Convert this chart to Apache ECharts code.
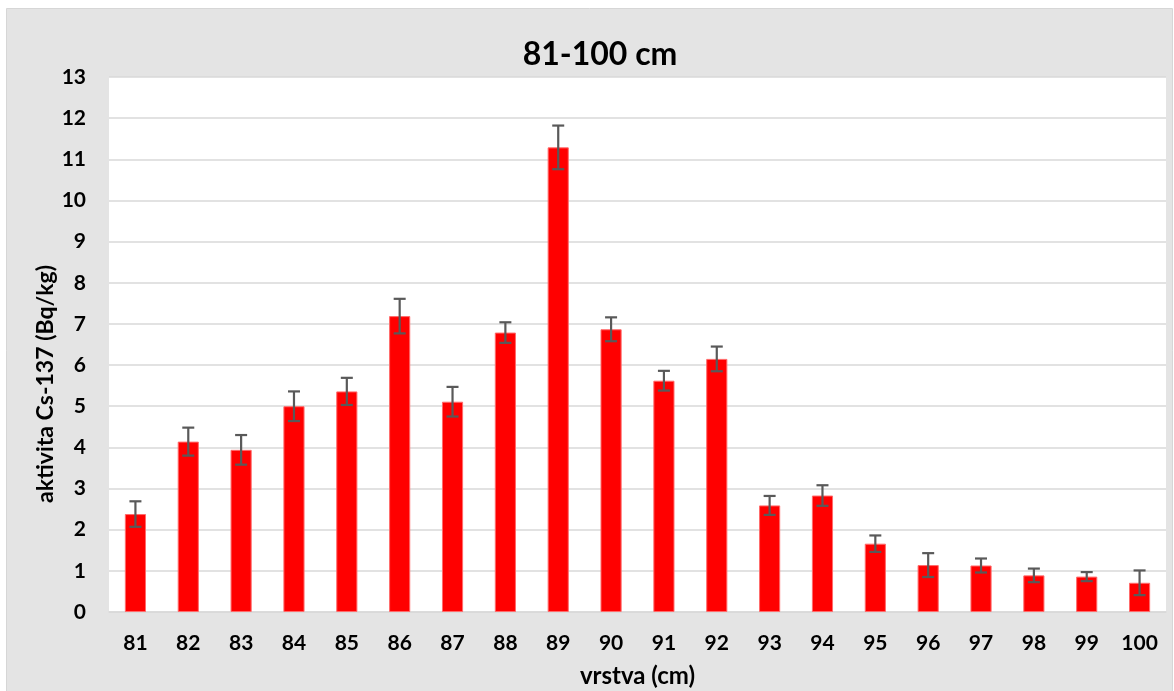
<!DOCTYPE html>
<html>
<head>
<meta charset="utf-8">
<script src="https://cdn.jsdelivr.net/npm/echarts@6/dist/echarts.min.js"></script>
<style>
  html, body { margin: 0; padding: 0; background: #fff; }
  #chart { width: 1174px; height: 691px; }
</style>
</head>
<body>
<div id="chart"></div>
<script>
// Layers (cm) and measured Cs-137 activity with its uncertainty
const layers = ['81', '82', '83', '84', '85', '86', '87', '88', '89', '90',
                '91', '92', '93', '94', '95', '96', '97', '98', '99', '100'];
const activity = [2.38, 4.14, 3.94, 5.00, 5.36, 7.19, 5.11, 6.79, 11.29, 6.87,
                  5.62, 6.15, 2.59, 2.83, 1.66, 1.14, 1.13, 0.89, 0.86, 0.71];
const uncertainty = [0.31, 0.34, 0.36, 0.36, 0.33, 0.42, 0.36, 0.25, 0.53, 0.29,
                     0.24, 0.30, 0.23, 0.25, 0.20, 0.29, 0.17, 0.165, 0.11, 0.30];
const yTicks = { min: 0, max: 13, step: 1 };

const FONT = 'Lato, "Open Sans", sans-serif';

const errorData = activity.map((v, i) => [i, v - uncertainty[i], v + uncertainty[i]]);

const chart = echarts.init(document.getElementById('chart'), null, { renderer: 'canvas' });

chart.setOption({
  backgroundColor: '#ffffff',
  animation: false,
  graphic: [
    {
      type: 'rect',
      z: -10,
      silent: true,
      shape: { x: 6.5, y: 8.5, width: 1166, height: 690 },
      style: { fill: '#e4e4e4', stroke: '#d6d6d6', lineWidth: 1 }
    },
    {
      // vertical axis title
      type: 'text',
      x: 46,
      y: 384,
      rotation: Math.PI / 2,
      silent: true,
      style: {
        text: 'aktivita Cs-137 (Bq/kg)',
        fontFamily: FONT, fontWeight: 'bold', fontSize: 23, fill: '#000',
        align: 'center', verticalAlign: 'middle'
      }
    }
  ],
  title: {
    text: '81-100 cm',
    left: 595,
    top: 34,
    textAlign: 'center',
    textStyle: { fontFamily: FONT, fontWeight: 'bold', fontSize: 32, color: '#000' }
  },
  grid: {
    left: 109, right: 8, top: 77, bottom: 79,
    outerBoundsMode: 'none',
    containLabel: false,
    show: true, backgroundColor: '#ffffff', borderWidth: 0
  },
  xAxis: {
    type: 'category',
    data: layers,
    name: 'vrstva (cm)',
    nameLocation: 'middle',
    nameGap: 52,
    nameTextStyle: { fontFamily: FONT, fontWeight: 'bold', fontSize: 24, color: '#000' },
    axisLine: { show: true, lineStyle: { color: '#d9d9d9', width: 1.5 } },
    axisTick: { show: false },
    axisLabel: { margin: 21, fontFamily: FONT, fontWeight: 'bold', fontSize: 21, color: '#000' }
  },
  yAxis: {
    type: 'value',
    min: yTicks.min,
    max: yTicks.max,
    interval: yTicks.step,
    axisLine: { show: false },
    axisTick: { show: false },
    splitLine: { show: true, lineStyle: { color: '#d9d9d9', width: 1.5 } },
    axisLabel: { margin: 23, fontFamily: FONT, fontWeight: 'bold', fontSize: 21, color: '#000' }
  },
  series: [
    {
      type: 'bar',
      data: activity,
      barCategoryGap: '60%',
      itemStyle: { color: '#ff0000', borderColor: '#ff6b6b', borderWidth: 1 }
    },
    {
      type: 'custom',
      data: errorData,
      z: 10,
      renderItem: function (params, api) {
        const x = api.value(0);
        const lo = api.coord([x, api.value(1)]);
        const hi = api.coord([x, api.value(2)]);
        const cap = 6;
        const style = { stroke: '#595959', lineWidth: 2.2, fill: null };
        return {
          type: 'group',
          children: [
            { type: 'line', shape: { x1: lo[0], y1: lo[1], x2: hi[0], y2: hi[1] }, style: style },
            { type: 'line', shape: { x1: hi[0] - cap, y1: hi[1], x2: hi[0] + cap, y2: hi[1] }, style: style },
            { type: 'line', shape: { x1: lo[0] - cap, y1: lo[1], x2: lo[0] + cap, y2: lo[1] }, style: style }
          ]
        };
      }
    }
  ]
});
</script>
</body>
</html>
